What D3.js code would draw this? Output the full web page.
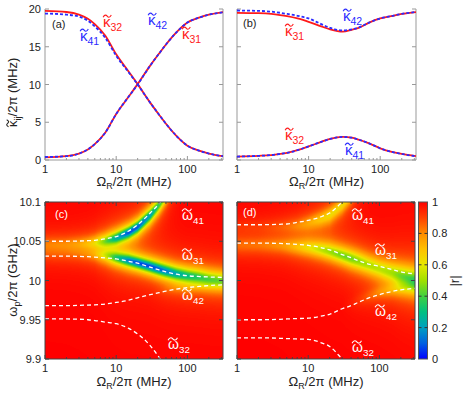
<!DOCTYPE html>
<html><head><meta charset="utf-8">
<script src="https://cdnjs.cloudflare.com/ajax/libs/d3/7.8.5/d3.min.js"></script>
<style>
body{margin:0;background:#fff}
text{font-family:"Liberation Sans",Arial,Helvetica,sans-serif}
</style>
</head><body>
<svg id="fig" width="463" height="395"></svg>
<script>
// ---- data ----
// Rabi frequency grid, Omega_R/2pi in MHz
var omegaR = [1, 2, 3, 4, 5, 7, 10, 15, 20, 30, 40, 50, 70, 100, 150, 200, 316];

// panel (a): effective decay rates (MHz)
var kappa32a = [19.75, 19.6, 19.25, 18.7, 18.0, 16.5, 14.0, 11.7, 10.05, 7.6, 6.0, 4.8, 3.2, 1.9, 1.2, 0.85, 0.5];
var kappa41a = [19.4, 19.25, 19.0, 18.45, 17.7, 16.2, 13.8, 11.6, 10.0, 7.6, 6.0, 4.8, 3.2, 1.9, 1.2, 0.85, 0.5];
var kappa31a = [0.35, 0.5, 0.85, 1.4, 2.1, 3.6, 6.1, 8.4, 10.05, 12.5, 14.1, 15.3, 16.9, 18.2, 18.9, 19.25, 19.6];
var kappa42a = [0.4, 0.5, 0.85, 1.4, 2.1, 3.6, 6.1, 8.4, 10.0, 12.5, 14.1, 15.3, 16.9, 18.2, 18.9, 19.25, 19.55];

// panel (b)
var kappa31b = [19.5, 19.45, 19.35, 19.2, 19.05, 18.75, 18.3, 17.7, 17.3, 17.0, 17.25, 17.5, 18.2, 18.75, 19.1, 19.35, 19.6];
var kappa42b = [19.8, 19.75, 19.65, 19.5, 19.35, 19.1, 18.75, 18.0, 17.5, 17.15, 17.3, 17.55, 18.2, 18.75, 19.1, 19.35, 19.6];
var kappa32b = [0.45, 0.55, 0.65, 0.8, 0.95, 1.3, 1.8, 2.4, 2.8, 3.05, 2.95, 2.7, 2.2, 1.55, 1.05, 0.8, 0.5];
var kappa41b = [0.45, 0.55, 0.65, 0.8, 0.95, 1.3, 1.8, 2.4, 2.8, 3.05, 2.95, 2.7, 2.2, 1.55, 1.05, 0.8, 0.5];

// panel (c): dressed frequencies (GHz)
var w41c = [10.050, 10.050, 10.0503, 10.0507, 10.0512, 10.053, 10.056, 10.063, 10.071, 10.086, 10.098, 10.112, null, null, null, null, null];
var w31c = [10.031, 10.031, 10.0307, 10.0303, 10.0298, 10.0288, 10.0275, 10.0245, 10.022, 10.017, 10.0135, 10.011, 10.008, 10.006, 10.005, 10.0045, 10.004];
var w42c = [9.968, 9.968, 9.9683, 9.9687, 9.969, 9.970, 9.972, 9.975, 9.978, 9.982, 9.9845, 9.9865, 9.989, 9.991, 9.9925, 9.9935, 9.9945];
var w32c = [9.951, 9.951, 9.9507, 9.950, 9.949, 9.947, 9.945, 9.939, 9.932, 9.917, 9.902, 9.888, null, null, null, null, null];

// panel (d)
var w41d = [10.071, 10.071, 10.0712, 10.0716, 10.072, 10.074, 10.0766, 10.081, 10.086, 10.1, 10.112, null, null, null, null, null, null];
var w31d = [10.0477, 10.0477, 10.0475, 10.0472, 10.0468, 10.046, 10.0447, 10.042, 10.039, 10.033, 10.029, 10.0255, 10.021, 10.018, 10.014, 10.011, 10.0085];
var w42d = [9.950, 9.950, 9.9502, 9.9506, 9.951, 9.9515, 9.952, 9.9545, 9.957, 9.964, 9.968, 9.972, 9.9775, 9.982, 9.986, 9.988, 9.990];
var w32d = [9.927, 9.927, 9.9268, 9.9264, 9.926, 9.9255, 9.925, 9.921, 9.916, 9.900, 9.888, null, null, null, null, null, null];

// reflection dips seen in the maps: centre (GHz), depth (1-|r|), half width (GHz)
var dipUpC_ctr = [10.046, 10.046, 10.0465, 10.047, 10.048, 10.050, 10.054, 10.061, 10.068, 10.083, 10.096, 10.108, 10.13, 10.16, 10.2, 10.2, 10.2];
var dipUpC_dep = [0.15, 0.17, 0.21, 0.26, 0.33, 0.52, 0.75, 0.92, 0.9, 0.78, 0.62, 0.5, 0.3, 0, 0, 0, 0];
var dipUpC_wid = [0.011, 0.0105, 0.01, 0.0095, 0.009, 0.0085, 0.008, 0.0075, 0.0078, 0.0085, 0.009, 0.009, 0.009, 0.009, 0.009, 0.009, 0.009];
var dipMidC_ctr = [10.035, 10.035, 10.0345, 10.034, 10.0335, 10.032, 10.029, 10.0255, 10.0225, 10.018, 10.0145, 10.012, 10.0085, 10.006, 10.004, 10.002, 10.0];
var dipMidC_dep = [0.08, 0.09, 0.11, 0.14, 0.2, 0.38, 0.65, 0.86, 0.93, 0.93, 0.9, 0.86, 0.78, 0.7, 0.62, 0.56, 0.5];
var dipMidC_wid = [0.011, 0.011, 0.0105, 0.01, 0.0095, 0.009, 0.0082, 0.0078, 0.0075, 0.0078, 0.0082, 0.0085, 0.009, 0.0095, 0.01, 0.0105, 0.011];
var dipLowC_ctr = [9.97, 9.97, 9.97, 9.971, 9.971, 9.972, 9.974, 9.977, 9.98, 9.984, 9.9865, 9.9885, 9.991, 9.993, 9.9945, 9.9955, 9.9965];
var dipLowC_dep = [0, 0, 0, 0, 0, 0, 0, 0, 0, 0, 0.02, 0.05, 0.08, 0.1, 0.12, 0.13, 0.14];
var dipLowC_wid = [0.008, 0.008, 0.008, 0.008, 0.008, 0.008, 0.008, 0.008, 0.008, 0.008, 0.008, 0.008, 0.008, 0.008, 0.008, 0.008, 0.008];

var dipUpD_ctr = [10.068, 10.068, 10.068, 10.0685, 10.069, 10.070, 10.073, 10.078, 10.083, 10.096, 10.108, 10.12, 10.14, 10.2, 10.2, 10.2, 10.2];
var dipUpD_dep = [0.05, 0.06, 0.08, 0.1, 0.12, 0.16, 0.22, 0.3, 0.35, 0.35, 0.3, 0.2, 0.1, 0, 0, 0, 0];
var dipUpD_wid = [0.01, 0.01, 0.01, 0.01, 0.01, 0.01, 0.01, 0.01, 0.01, 0.01, 0.01, 0.01, 0.01, 0.01, 0.01, 0.01, 0.01];
var dipMidD_ctr = [10.045, 10.045, 10.0448, 10.0445, 10.044, 10.043, 10.042, 10.0395, 10.037, 10.032, 10.028, 10.025, 10.02, 10.015, 10.01, 10.006, 10.001];
var dipMidD_dep = [0.15, 0.16, 0.18, 0.2, 0.23, 0.29, 0.37, 0.45, 0.5, 0.55, 0.55, 0.52, 0.48, 0.46, 0.48, 0.53, 0.58];
var dipMidD_wid = [0.012, 0.012, 0.0118, 0.0115, 0.0112, 0.011, 0.0108, 0.0105, 0.0105, 0.0105, 0.011, 0.0115, 0.012, 0.0125, 0.013, 0.0135, 0.014];
var dipLowD_ctr = [9.953, 9.953, 9.953, 9.954, 9.954, 9.955, 9.955, 9.958, 9.96, 9.967, 9.971, 9.975, 9.98, 9.985, 9.989, 9.991, 9.993];
var dipLowD_dep = [0, 0, 0, 0, 0, 0, 0, 0, 0, 0, 0.02, 0.05, 0.1, 0.15, 0.2, 0.24, 0.27];
var dipLowD_wid = [0.009, 0.009, 0.009, 0.009, 0.009, 0.009, 0.009, 0.009, 0.009, 0.009, 0.009, 0.009, 0.009, 0.009, 0.009, 0.009, 0.009];

// colour map of |r|
var cmapStops = [0, 0.1, 0.2, 0.3, 0.4, 0.5, 0.6, 0.7, 0.8, 0.9, 1];
var cmapColors = ["#0000ff", "#0060e0", "#00a0c0", "#00c080", "#40d040", "#a0e000", "#e8e800", "#ffc000", "#ff8c00", "#ff4000", "#ff0000"];

var xMajor = [1, 10, 100];
var xMinor = [2, 3, 4, 5, 6, 7, 8, 9, 20, 30, 40, 50, 60, 70, 80, 90, 200, 300];
var kTicks = [0, 5, 10, 15, 20];
var wTicks = [9.9, 9.95, 10, 10.05, 10.1];
var wTickLabels = ["9.9", "9.95", "10", "10.05", "10.1"];
var cbTicks = [0, 0.2, 0.4, 0.6, 0.8, 1];

// ---- layout ----
var svg = d3.select("#fig");
var xDomain = [1, 316.2];
var P = {
    a: {x0: 45, x1: 223, y0: 9, y1: 160},
    b: {x0: 237, x1: 416, y0: 9, y1: 160},
    c: {x0: 45, x1: 223, y0: 202, y1: 359},
    d: {x0: 237, x1: 415, y0: 202, y1: 359}
};
for (var k in P) {
    P[k].x = d3.scaleLog().domain(xDomain).range([P[k].x0, P[k].x1]);
}
P.a.y = d3.scaleLinear().domain([0, 20]).range([P.a.y1, P.a.y0]);
P.b.y = d3.scaleLinear().domain([0, 20]).range([P.b.y1, P.b.y0]);
P.c.y = d3.scaleLinear().domain([9.9, 10.1]).range([P.c.y1, P.c.y0]);
P.d.y = d3.scaleLinear().domain([9.9, 10.1]).range([P.d.y1, P.d.y0]);

var cmap = d3.scaleLinear().domain(cmapStops).range(cmapColors).clamp(true);

// tilde accent drawn as a small wave, width wd, centred on cx, at height cy
function tilde(g, cx, cy, wd, color){
    var h = wd * 0.22, x0 = cx - wd / 2;
    g.append("path")
     .attr("d", "M" + x0 + "," + (cy + h * 0.6) +
                " C" + (x0 + wd * 0.2) + "," + (cy - h * 1.2) + " " + (x0 + wd * 0.4) + "," + (cy - h * 0.6) + " " + (x0 + wd * 0.5) + "," + cy +
                " S" + (x0 + wd * 0.8) + "," + (cy + h * 1.2) + " " + (x0 + wd) + "," + (cy - h * 0.6))
     .attr("fill", "none").attr("stroke", color).attr("stroke-width", 1.1);
}

// symbol with tilde and subscript
function tsym(g, x, y, sym, sub, rest, size, color){
    var t = g.append("text").attr("x", x).attr("y", y).attr("font-size", size).attr("fill", color);
    t.append("tspan").text(sym);
    t.append("tspan").attr("font-size", size * 0.7).attr("dy", size * 0.28).text(sub);
    if ( rest ) t.append("tspan").attr("dy", -size * 0.28).text(rest);
    var gw = sym == "ω" ? size * 0.64 : size * 0.52;
    tilde(g, x + gw / 2 + 0.3, y - size * 0.72, gw * 1.05, color);
    return t;
}

function xTitle(p, yb){
    var t = svg.append("text").attr("x", (p.x0 + p.x1) / 2).attr("y", yb)
               .attr("text-anchor", "middle").attr("font-size", 13).attr("fill", "#222");
    t.append("tspan").text("Ω");
    t.append("tspan").attr("font-size", 9).attr("dy", 3).text("R");
    t.append("tspan").attr("dy", -3).text("/2π (MHz)");
}

function drawFrame(p, col, showTop, yTicks, yLabels){
    var g = svg.append("g");
    // box
    g.append("line").attr("x1", p.x0).attr("x2", p.x0).attr("y1", p.y0).attr("y2", p.y1);
    g.append("line").attr("x1", p.x1).attr("x2", p.x1).attr("y1", p.y0).attr("y2", p.y1);
    g.append("line").attr("x1", p.x0).attr("x2", p.x1).attr("y1", p.y1).attr("y2", p.y1);
    if ( showTop ) g.append("line").attr("x1", p.x0).attr("x2", p.x1).attr("y1", p.y0).attr("y2", p.y0);
    g.selectAll("line").attr("stroke", col).attr("stroke-width", 1);

    // x ticks (bottom, and top when the box is closed)
    xMajor.forEach(function(v){
        var xx = p.x(v);
        g.append("line").attr("x1", xx).attr("x2", xx).attr("y1", p.y1).attr("y2", p.y1 - 4).attr("stroke", col);
        if ( showTop ) g.append("line").attr("x1", xx).attr("x2", xx).attr("y1", p.y0).attr("y2", p.y0 + 4).attr("stroke", col);
        g.append("text").attr("x", xx).attr("y", p.y1 + 13).attr("text-anchor", "middle")
         .attr("font-size", 11).attr("fill", "#222").text(v);
    });
    xMinor.forEach(function(v){
        var xx = p.x(v);
        g.append("line").attr("x1", xx).attr("x2", xx).attr("y1", p.y1).attr("y2", p.y1 - 2).attr("stroke", col);
        if ( showTop ) g.append("line").attr("x1", xx).attr("x2", xx).attr("y1", p.y0).attr("y2", p.y0 + 2).attr("stroke", col);
    });
    // y ticks (left + right)
    yTicks.forEach(function(v, i){
        var yy = p.y(v);
        g.append("line").attr("x1", p.x0).attr("x2", p.x0 + 4).attr("y1", yy).attr("y2", yy).attr("stroke", col);
        g.append("line").attr("x1", p.x1).attr("x2", p.x1 - 4).attr("y1", yy).attr("y2", yy).attr("stroke", col);
        if ( yLabels )
            g.append("text").attr("x", p.x0 - 4).attr("y", yy + 4).attr("text-anchor", "end")
             .attr("font-size", 11).attr("fill", "#222").text(yLabels[i]);
    });
}

// ---- line panels ----
function drawLines(p, clipId, series){
    var clip = svg.append("clipPath").attr("id", clipId);
    clip.append("rect").attr("x", p.x0).attr("y", p.y0 - 2).attr("width", p.x1 - p.x0).attr("height", p.y1 - p.y0 + 2);
    var g = svg.append("g").attr("clip-path", "url(#" + clipId + ")");
    var line = d3.line()
                 .defined(function(d){ return d[1] != null; })
                 .x(function(d){ return p.x(d[0]); })
                 .y(function(d){ return p.y(d[1]); })
                 .curve(d3.curveMonotoneX);
    series.forEach(function(s){
        g.append("path")
         .datum(omegaR.map(function(o, i){ return [o, s.values[i]]; }))
         .attr("d", line)
         .attr("fill", "none")
         .attr("stroke", s.color)
         .attr("stroke-width", s.width)
         .attr("stroke-dasharray", s.dash);
    });
}

drawFrame(P.a, "#999", false, kTicks, kTicks.map(String));
drawFrame(P.b, "#999", false, kTicks, null);

drawLines(P.a, "clipA", [
    {values: kappa32a, color: "#ff1a1a", width: 1.8, dash: null},
    {values: kappa31a, color: "#ff1a1a", width: 1.8, dash: null},
    {values: kappa41a, color: "#2b2bff", width: 1.8, dash: "3,2"},
    {values: kappa42a, color: "#2b2bff", width: 1.8, dash: "3,2"}
]);
drawLines(P.b, "clipB", [
    {values: kappa31b, color: "#ff1a1a", width: 1.8, dash: null},
    {values: kappa32b, color: "#ff1a1a", width: 1.8, dash: null},
    {values: kappa42b, color: "#2b2bff", width: 1.8, dash: "3,2"},
    {values: kappa41b, color: "#2b2bff", width: 1.8, dash: "3,2"}
]);

// ---- maps ----
function drawMap(p, clipId, dips, curves){
    var w = Math.round(p.x1 - p.x0), h = Math.round(p.y1 - p.y0);
    var cv = document.createElement("canvas");
    cv.width = w; cv.height = h;
    var ctx = cv.getContext("2d");
    var img = ctx.createImageData(w, h);
    var lx = omegaR.map(Math.log10);
    var fns = dips.map(function(dp){
        return {
            c: d3.scaleLinear().domain(lx).range(dp.ctr).clamp(true),
            d: d3.scaleLinear().domain(lx).range(dp.dep).clamp(true),
            w: d3.scaleLinear().domain(lx).range(dp.wid).clamp(true)
        };
    });
    var lut = d3.range(256).map(function(i){ return d3.rgb(cmap(i / 255)); });
    for ( var i = 0; i < w; i++ ){
        var lo = Math.log10(p.x.invert(p.x0 + i + 0.5));
        var par = fns.map(function(f){ return [f.c(lo), f.d(lo), f.w(lo)]; });
        for ( var j = 0; j < h; j++ ){
            var wp = p.y.invert(p.y0 + j + 0.5);
            var r = 1;
            for ( var m = 0; m < par.length; m++ ){
                var dd = wp - par[m][0], ww = par[m][2];
                r *= 1 - par[m][1] * ww * ww / (dd * dd + ww * ww);
            }
            var c = lut[Math.max(0, Math.min(255, Math.round(r * 255)))];
            var idx = (j * w + i) * 4;
            img.data[idx] = c.r; img.data[idx + 1] = c.g; img.data[idx + 2] = c.b; img.data[idx + 3] = 255;
        }
    }
    ctx.putImageData(img, 0, 0);
    svg.append("image").attr("x", p.x0).attr("y", p.y0).attr("width", w).attr("height", h)
       .attr("preserveAspectRatio", "none").attr("href", cv.toDataURL());

    var clip = svg.append("clipPath").attr("id", clipId);
    clip.append("rect").attr("x", p.x0).attr("y", p.y0).attr("width", p.x1 - p.x0).attr("height", p.y1 - p.y0);
    var g = svg.append("g").attr("clip-path", "url(#" + clipId + ")");
    var line = d3.line()
                 .defined(function(d){ return d[1] != null; })
                 .x(function(d){ return p.x(d[0]); })
                 .y(function(d){ return p.y(d[1]); })
                 .curve(d3.curveMonotoneX);
    curves.forEach(function(vals){
        g.append("path")
         .datum(omegaR.map(function(o, i){ return [o, vals[i]]; }))
         .attr("d", line).attr("fill", "none").attr("stroke", "#fff")
         .attr("stroke-width", 1.3).attr("stroke-dasharray", "4,3");
    });
}

drawMap(P.c, "clipC", [
    {ctr: dipUpC_ctr, dep: dipUpC_dep, wid: dipUpC_wid},
    {ctr: dipMidC_ctr, dep: dipMidC_dep, wid: dipMidC_wid},
    {ctr: dipLowC_ctr, dep: dipLowC_dep, wid: dipLowC_wid}
], [w41c, w31c, w42c, w32c]);
drawMap(P.d, "clipD", [
    {ctr: dipUpD_ctr, dep: dipUpD_dep, wid: dipUpD_wid},
    {ctr: dipMidD_ctr, dep: dipMidD_dep, wid: dipMidD_wid},
    {ctr: dipLowD_ctr, dep: dipLowD_dep, wid: dipLowD_wid}
], [w41d, w31d, w42d, w32d]);

drawFrame(P.c, "#444", true, wTicks, wTickLabels);
drawFrame(P.d, "#444", true, wTicks, null);

// ---- colour bar ----
var cb = {x0: 418.5, x1: 427.5, y0: 202, y1: 359};
var cbY = d3.scaleLinear().domain([0, 1]).range([cb.y1, cb.y0]);
var grad = svg.append("defs").append("linearGradient").attr("id", "cbgrad")
              .attr("x1", 0).attr("y1", 1).attr("x2", 0).attr("y2", 0);
d3.range(0, 1.0001, 0.05).forEach(function(v){
    grad.append("stop").attr("offset", v).attr("stop-color", cmap(v));
});
svg.append("rect").attr("x", cb.x0).attr("y", cb.y0).attr("width", cb.x1 - cb.x0).attr("height", cb.y1 - cb.y0)
   .attr("fill", "url(#cbgrad)").attr("stroke", "#555").attr("stroke-width", 1);
cbTicks.forEach(function(v){
    var yy = cbY(v);
    if ( v > 0 && v < 1 ){
        svg.append("line").attr("x1", cb.x0).attr("x2", cb.x0 + 3).attr("y1", yy).attr("y2", yy).attr("stroke", "#333");
        svg.append("line").attr("x1", cb.x1).attr("x2", cb.x1 - 3).attr("y1", yy).attr("y2", yy).attr("stroke", "#333");
    }
    svg.append("text").attr("x", 432).attr("y", yy + 4).attr("font-size", 11).attr("fill", "#222").text(String(v));
});
svg.append("text").attr("transform", "translate(459,281) rotate(-90)").attr("text-anchor", "middle")
   .attr("font-size", 13).attr("fill", "#222").text("|r|");

// ---- titles ----
xTitle(P.a, 186);
xTitle(P.b, 186);
xTitle(P.c, 386);
xTitle(P.d, 386);

var ya = svg.append("g").attr("transform", "translate(17,85) rotate(-90)");
tsym(ya, -42, 0, "κ", "ij", "/2π (MHz)", 13, "#222");
var yc = svg.append("text").attr("transform", "translate(17,280) rotate(-90)").attr("text-anchor", "middle")
            .attr("font-size", 13).attr("fill", "#222");
yc.append("tspan").text("ω");
yc.append("tspan").attr("font-size", 9).attr("dy", 3).text("p");
yc.append("tspan").attr("dy", -3).text("/2π (GHz)");

// ---- panel labels ----
var lab = svg.append("g");
lab.append("text").attr("x", 52).attr("y", 28).attr("font-size", 11).attr("fill", "#222").text("(a)");
lab.append("text").attr("x", 243).attr("y", 27).attr("font-size", 11).attr("fill", "#222").text("(b)");
lab.append("text").attr("x", 55).attr("y", 218).attr("font-size", 11).attr("fill", "#fff").text("(c)");
lab.append("text").attr("x", 243).attr("y", 216).attr("font-size", 11).attr("fill", "#fff").text("(d)");

tsym(lab, 103, 27, "κ", "32", null, 15, "#ff1a1a");
tsym(lab, 80, 41, "κ", "41", null, 15, "#2b2bff");
tsym(lab, 148, 25, "κ", "42", null, 15, "#2b2bff");
tsym(lab, 182, 39, "κ", "31", null, 15, "#ff1a1a");

tsym(lab, 343, 21, "κ", "42", null, 15, "#2b2bff");
tsym(lab, 285, 36, "κ", "31", null, 15, "#ff1a1a");
tsym(lab, 285, 140, "κ", "32", null, 15, "#ff1a1a");
tsym(lab, 345, 155, "κ", "41", null, 15, "#2b2bff");

tsym(lab, 182, 220, "ω", "41", null, 14, "#fff");
tsym(lab, 182, 260, "ω", "31", null, 14, "#fff");
tsym(lab, 182, 300, "ω", "42", null, 14, "#fff");
tsym(lab, 168, 349, "ω", "32", null, 14, "#fff");

tsym(lab, 352, 220, "ω", "41", null, 14, "#fff");
tsym(lab, 375, 255, "ω", "31", null, 14, "#fff");
tsym(lab, 375, 316, "ω", "42", null, 14, "#fff");
tsym(lab, 352, 352, "ω", "32", null, 14, "#fff");
</script>
</body></html>
